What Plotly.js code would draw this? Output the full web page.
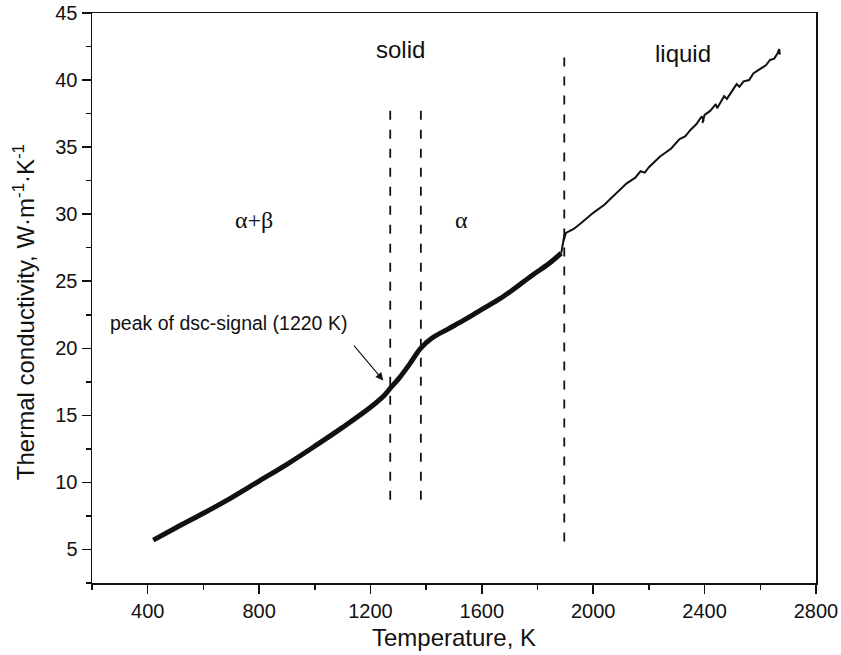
<!DOCTYPE html>
<html>
<head>
<meta charset="utf-8">
<script src="https://cdn.plot.ly/plotly-3.0.1.min.js"></script>
<style>html,body{margin:0;padding:0;background:#fff;}#chart{width:841px;height:655px;}</style>
</head>
<body>
<div id="chart"></div>
<script>
// Solid-state part of the measured curve (thick line)
const tempSolid = [420, 500, 600, 700, 800, 900, 1000, 1100, 1200, 1250, 1270, 1300, 1340, 1380, 1420, 1480, 1540, 1600, 1665, 1720, 1785, 1840, 1885];
const kSolid    = [5.7, 6.6, 7.7, 8.85, 10.1, 11.35, 12.7, 14.1, 15.6, 16.5, 17.0, 17.7, 18.8, 20.0, 20.75, 21.45, 22.15, 22.9, 23.7, 24.5, 25.5, 26.3, 27.1];

// Melting jump and liquid part (thin, noisy line)
const tempLiquid = [1885, 1893, 1888, 1897, 1892, 1902, 1930, 1960, 2000, 2040, 2080, 2120, 2150, 2170, 2185, 2200, 2240, 2280, 2310, 2330, 2350, 2370, 2390, 2396, 2392, 2400, 2420, 2440, 2445, 2455, 2470, 2480, 2500, 2515, 2525, 2540, 2560, 2575, 2590, 2605, 2620, 2635, 2650, 2662, 2668, 2670];
const kLiquid    = [27.1, 28.3, 27.5, 28.5, 27.9, 28.6, 28.9, 29.4, 30.1, 30.7, 31.5, 32.3, 32.7, 33.2, 33.1, 33.5, 34.3, 34.9, 35.6, 35.8, 36.3, 36.7, 37.3, 37.0, 36.8, 37.4, 37.7, 38.2, 37.9, 38.3, 38.8, 38.6, 39.2, 39.7, 39.5, 39.9, 40.0, 40.5, 40.7, 40.9, 41.1, 41.5, 41.6, 42.0, 42.3, 41.9];

// Vertical dashed phase boundaries
const boundaryT    = [1271, 1381, 1896];
const boundaryLow  = [8.7, 8.7, 5.6];
const boundaryHigh = [37.8, 37.8, 41.7];

// Region labels
const labelText = ['solid', 'liquid'];
const labelT    = [1308, 2321];
const labelK    = [42.3, 42.0];
const phaseText = ['α+β', 'α'];
const phaseT    = [781, 1527];
const phaseK    = [29.6, 29.6];

// Peak annotation
const peakText = 'peak of dsc-signal (1220 K)';
const peakTextPos = [258, 21.85];
const peakArrowTail = [1130, 20.47];
const peakArrowTip  = [1246, 17.6];

const xTitle = 'Temperature, K';
const yTitle = 'Thermal conductivity, W·m<sup>-1</sup>·K<sup>-1</sup>';
const xTickVals = [400, 800, 1200, 1600, 2000, 2400, 2800];
const yTickVals = [5, 10, 15, 20, 25, 30, 35, 40, 45];

const dashX = [], dashY = [];
boundaryT.forEach((t, i) => { dashX.push(t, t, null); dashY.push(boundaryLow[i], boundaryHigh[i], null); });

const SANS = '"Liberation Sans", Arial, sans-serif';
const SERIF = '"Liberation Serif", "Times New Roman", serif';

const traces = [
  {x: dashX, y: dashY, mode: 'lines', line: {color: '#111', width: 1.8, dash: '9px,10px'}, hoverinfo: 'skip', showlegend: false},
  {x: tempSolid, y: kSolid, mode: 'lines', line: {color: '#111', width: 5, shape: 'spline'}, showlegend: false},
  {x: tempLiquid, y: kLiquid, mode: 'lines', line: {color: '#111', width: 2}, showlegend: false}
];

const annotations = [];
labelText.forEach((t, i) => annotations.push({x: labelT[i], y: labelK[i], xref: 'x', yref: 'y', text: t, showarrow: false, font: {family: SANS, size: 24, color: '#111'}}));
phaseText.forEach((t, i) => annotations.push({x: phaseT[i], y: phaseK[i], xref: 'x', yref: 'y', text: t, showarrow: false, font: {family: SERIF, size: 24, color: '#111'}}));
annotations.push({x: peakTextPos[0], y: peakTextPos[1], xref: 'x', yref: 'y', xanchor: 'left', text: peakText, showarrow: false, font: {family: SANS, size: 19.5, color: '#111'}});
annotations.push({x: peakArrowTip[0], y: peakArrowTip[1], ax: peakArrowTail[0], ay: peakArrowTail[1], xref: 'x', yref: 'y', axref: 'x', ayref: 'y', text: ' ', showarrow: true, arrowhead: 2, arrowsize: 1.4, arrowwidth: 1.1, arrowcolor: '#111'});
// y-axis title placed as a rotated annotation so it sits where the reference has it
annotations.push({x: -0.094, y: 0.475, xref: 'paper', yref: 'paper', xanchor: 'center', yanchor: 'middle', textangle: -90, text: yTitle, showarrow: false, font: {family: SANS, size: 24, color: '#111'}});

const layout = {
  width: 841, height: 655,
  margin: {l: 92, r: 25, t: 13, b: 72},
  paper_bgcolor: '#fff', plot_bgcolor: '#fff',
  font: {family: SANS, color: '#111'},
  xaxis: {
    range: [200, 2800], tickvals: xTickVals, ticks: 'outside', ticklen: 9, tickwidth: 1.5, tickcolor: '#111',
    showline: true, linecolor: '#111', linewidth: 1.5, mirror: true, showgrid: false, zeroline: false,
    tickfont: {family: SANS, size: 20, color: '#111'},
    minor: {dtick: 200, tick0: 200, ticks: 'outside', ticklen: 5, tickwidth: 1.5, tickcolor: '#111', showgrid: false},
    title: {text: xTitle, font: {family: SANS, size: 24, color: '#111'}, standoff: 8}
  },
  yaxis: {
    range: [2.5, 45], tickvals: yTickVals, ticks: 'outside', ticklen: 9, tickwidth: 1.5, tickcolor: '#111',
    showline: true, linecolor: '#111', linewidth: 1.5, mirror: true, showgrid: false, zeroline: false,
    tickfont: {family: SANS, size: 20, color: '#111'},
    minor: {dtick: 2.5, tick0: 0, ticks: 'outside', ticklen: 5, tickwidth: 1.5, tickcolor: '#111', showgrid: false}
  },
  annotations: annotations,
  showlegend: false
};

Plotly.newPlot('chart', traces, layout, {displayModeBar: false, staticPlot: true});
</script>
</body>
</html>
